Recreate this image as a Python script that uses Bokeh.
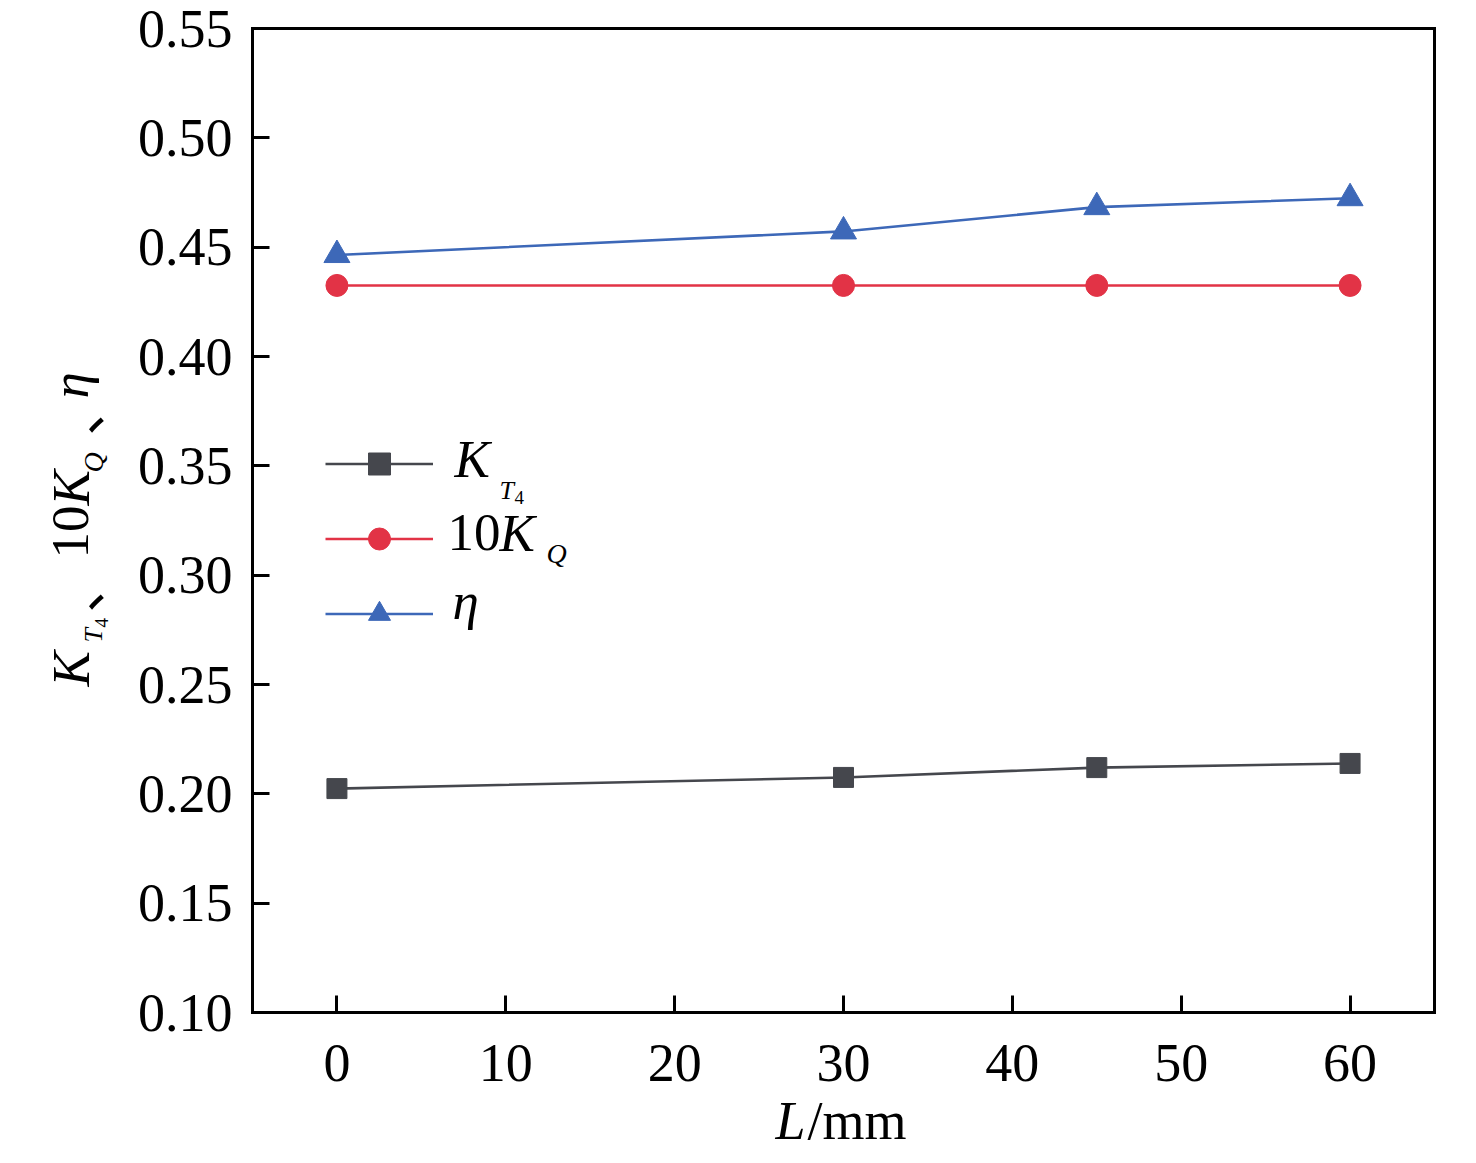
import math
from bokeh.plotting import figure
from bokeh.models import (Range1d, FixedTicker, NumeralTickFormatter, Legend, LegendItem,
                          Label, LinearAxis)
from bokeh.embed import file_html
from bokeh.resources import INLINE

# ---- data ----
L_mm = [0, 30, 45, 60]
KT4 = [0.2024, 0.2075, 0.2120, 0.2139]
KQ10 = [0.4325, 0.4325, 0.4325, 0.4325]
eta = [0.4464, 0.4572, 0.4683, 0.4724]

x_ticks = [0, 10, 20, 30, 40, 50, 60]
y_ticks = [0.10, 0.15, 0.20, 0.25, 0.30, 0.35, 0.40, 0.45, 0.50, 0.55]
X_LIM = (-5, 65)
Y_LIM = (0.10, 0.55)

C_GRAY = "#45474d"
C_RED = "#e23346"
C_BLUE = "#3d68b8"

SERIF = "Liberation Serif"
CJK = "Noto Sans CJK SC"

# ---- layout: the plotting box sits at page px (252..1434, 28..1012) ----
W, H = 1460, 1160
BOX_L, BOX_R, BOX_T, BOX_B = 252, 1434, 28, 1012
kx = (BOX_R - BOX_L) / (X_LIM[1] - X_LIM[0])
ky = (BOX_B - BOX_T) / (Y_LIM[1] - Y_LIM[0])
xr = Range1d(X_LIM[0] - BOX_L / kx, X_LIM[1] + (W - BOX_R) / kx)
yr = Range1d(Y_LIM[0] - (H - BOX_B) / ky, Y_LIM[1] + BOX_T / ky)

p = figure(width=W, height=H, output_backend="svg", toolbar_location=None,
           x_range=xr, y_range=yr, x_axis_location=None, y_axis_location=None,
           min_border=0, min_border_left=0, min_border_right=0,
           min_border_top=0, min_border_bottom=0)
p.grid.visible = False
p.outline_line_color = None
p.background_fill_color = "white"
p.border_fill_color = "white"


def box_axis(side, loc, bounds, ticks, labels=True):
    ax = LinearAxis(fixed_location=loc, bounds=bounds, ticker=FixedTicker(ticks=ticks),
                    axis_line_width=3, axis_line_color="black", axis_line_cap="square",
                    major_tick_line_width=3, major_tick_line_color="black",
                    major_tick_in=17, major_tick_out=0, minor_tick_line_color=None,
                    major_label_text_font=SERIF, major_label_text_font_size="54px",
                    major_label_text_color="black")
    if not labels:
        ax.major_label_text_alpha = 0
    p.add_layout(ax, side)
    return ax


ax_b = box_axis("below", Y_LIM[0], X_LIM, x_ticks)
ax_b.major_label_standoff = 32
ax_l = box_axis("left", X_LIM[0], Y_LIM, y_ticks)
ax_l.major_label_standoff = 20
ax_l.formatter = NumeralTickFormatter(format="0.00")
box_axis("above", Y_LIM[1], X_LIM, [])
box_axis("right", X_LIM[1], Y_LIM, [])

# ---- series ----
l1 = p.line(L_mm, KT4, line_color=C_GRAY, line_width=2.6)
s1 = p.scatter(L_mm, KT4, marker="square", size=20, fill_color=C_GRAY, line_color=C_GRAY)
l2 = p.line(L_mm, KQ10, line_color=C_RED, line_width=2.6)
s2 = p.scatter(L_mm, KQ10, marker="circle", size=22, fill_color=C_RED, line_color=C_RED)
l3 = p.line(L_mm, eta, line_color=C_BLUE, line_width=2.6)
s3 = p.scatter(L_mm, eta, marker="triangle", size=26, fill_color=C_BLUE, line_color=C_BLUE)

legend = Legend(items=[LegendItem(label=" ", renderers=[l1, s1]),
                       LegendItem(label=" ", renderers=[l2, s2]),
                       LegendItem(label=" ", renderers=[l3, s3])],
                location=(325, H - 640.5), glyph_width=108, glyph_height=55, label_height=55,
                spacing=20, padding=0, margin=0, label_text_font_size="10px",
                background_fill_alpha=0, border_line_alpha=0)
p.add_layout(legend, "center")

# ---- texts: (px, py) = start of text on its baseline, in page px (y down) ----
BASE_SHIFT = 0.37  # measured offset of Bokeh's "alphabetic" anchor, in em


def txt(text, px, py, size, style="normal", font=SERIF, angle=0.0):
    shift = BASE_SHIFT * size
    if angle == 0.0:
        sx, sy = px, H - (py - shift)
    else:
        sx, sy = px - shift, H - py
    p.add_layout(Label(x=sx, y=sy, x_units="screen", y_units="screen", text=text,
                       text_font=font, text_font_size="%dpx" % size, text_font_style=style,
                       text_color="black", text_align="left", text_baseline="alphabetic",
                       angle=angle))


# legend labels
txt("K", 454, 478, 53, "italic")
txt("T", 499, 500, 26, "italic")
txt("4", 514, 504, 19)
txt("10", 447, 552, 53)
txt("K", 499, 552, 53, "italic")
txt("Q", 546, 563, 28, "italic")
txt("η", 452, 620, 53, "italic")

# x title
txt("L", 775, 1140, 54, "italic")
txt("/mm", 807, 1140, 54)

# y title (rotated, reading upward)
A = math.pi / 2
txt("K", 90, 686, 53, "italic", angle=A)
txt("T", 103, 642, 26, "italic", angle=A)
txt("4", 108, 627, 19, angle=A)
txt("、", 97, 612, 53, font=CJK, angle=A)
txt("10", 90, 558, 53, angle=A)
txt("K", 90, 505, 53, "italic", angle=A)
txt("Q", 103.5, 472, 28, "italic", angle=A)
txt("、", 97, 435, 53, font=CJK, angle=A)
txt("η", 89, 398, 53, "italic", angle=A)

open("out.html", "w").write(file_html(p, INLINE))
